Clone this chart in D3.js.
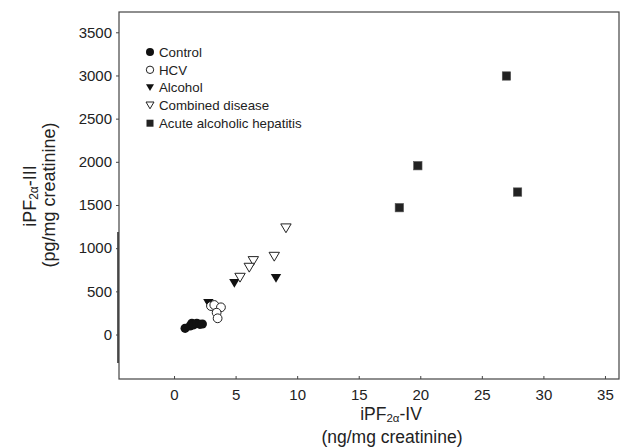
<!DOCTYPE html>
<html><head><meta charset="utf-8">
<script src="https://cdn.jsdelivr.net/npm/d3@7"></script>
<style>body{margin:0;background:#fff}svg{display:block}text{font-family:"Liberation Sans",Arial,sans-serif;fill:#222}</style>
</head><body><svg id="c" width="635" height="447"></svg>
<script>
const xTicks=[0,5,10,15,20,25,30,35];
const yTicks=[0,500,1000,1500,2000,2500,3000,3500];
const control=[[0.9,72],[1.3,100],[1.45,130],[1.6,112],[1.85,130],[2.1,118],[2.3,122]];
const hcv=[[3.0,330],[3.27,342],[3.81,315],[3.46,253],[3.54,188]];
const alcohol=[[2.79,361],[2.95,330],[4.9,593],[8.28,651]];
const combined=[[9.09,1230],[8.14,901],[6.44,851],[6.11,774],[5.36,658]];
const aah=[[18.3,1469],[19.8,1955],[27.0,2994],[27.9,1650]];
const legendLabels=["Control","HCV","Alcohol","Combined disease","Acute alcoholic hepatitis"];

const svg=d3.select("#c");
const L=119,R=619,T=12,B=379;
const x=d3.scaleLinear().domain([-4.47,36.14]).range([L,R]);
const y=d3.scaleLinear().domain([-515,3735]).range([B,T]);
const ink="#222";

// frame
svg.append("rect").attr("x",L).attr("y",T).attr("width",R-L).attr("height",B-T)
  .attr("fill","none").attr("stroke","#444").attr("stroke-width",1.2);
svg.append("line").attr("x1",L-1).attr("x2",L-1).attr("y1",232).attr("y2",363)
  .attr("stroke","#333").attr("stroke-width",1.6);

// y axis
const ya=svg.append("g").attr("transform",`translate(${L},0)`)
  .call(d3.axisLeft(y).tickValues(yTicks).tickFormat(d3.format("d")).tickSize(3).tickPadding(4));
ya.select(".domain").remove();
ya.selectAll("line").attr("stroke","#444");
ya.selectAll("text").style("font-size","15px").attr("fill",ink);

// x axis (inward ticks)
const xa=svg.append("g").attr("transform",`translate(0,${B})`)
  .call(d3.axisBottom(x).tickValues(xTicks).tickFormat(d3.format("d")).tickSize(-3).tickPadding(10));
xa.select(".domain").remove();
xa.selectAll("line").attr("stroke","#444");
xa.selectAll("text").style("font-size","15px").attr("fill",ink);

// axis titles
const xt=svg.append("text").attr("x",391).attr("y",420).attr("text-anchor","middle").style("font-size","17.5px");
xt.append("tspan").text("iPF");
xt.append("tspan").text("2α").style("font-size","11.5px").attr("dy",2);
xt.append("tspan").text("-IV").attr("dy",-2);
svg.append("text").attr("x",392).attr("y",443).attr("text-anchor","middle").style("font-size","17.5px").text("(ng/mg creatinine)");

const yt=svg.append("text").attr("transform","translate(36,196) rotate(-90)").attr("text-anchor","middle").style("font-size","18px");
yt.append("tspan").text("iPF");
yt.append("tspan").text("2α").style("font-size","12px").attr("dy",2);
yt.append("tspan").text("-III").attr("dy",-2);
svg.append("text").attr("transform","translate(55,195) rotate(-90)").attr("text-anchor","middle").style("font-size","18px").text("(pg/mg creatinine)");

// markers
const tri=(s)=>`M${-s},${-s*0.85}L${s},${-s*0.85}L0,${s*0.85}Z`;
const g=svg.append("g");
g.selectAll(".ctl").data(control).join("circle").attr("cx",d=>x(d[0])).attr("cy",d=>y(d[1])).attr("r",4.6).attr("fill","#111");
g.selectAll(".alc").data(alcohol).join("path").attr("transform",d=>`translate(${x(d[0])},${y(d[1])})`).attr("d",tri(5.2)).attr("fill","#111");
g.selectAll(".hcv").data(hcv).join("circle").attr("cx",d=>x(d[0])).attr("cy",d=>y(d[1])).attr("r",4.4).attr("fill","#fff").attr("stroke","#222").attr("stroke-width",1);
g.selectAll(".cmb").data(combined).join("path").attr("transform",d=>`translate(${x(d[0])},${y(d[1])})`).attr("d",tri(5.2)).attr("fill","#fff").attr("stroke","#222").attr("stroke-width",1);
g.selectAll(".aah").data(aah).join("rect").attr("x",d=>x(d[0])-4.2).attr("y",d=>y(d[1])-4.2).attr("width",8.4).attr("height",8.4).attr("fill","#222").attr("stroke","#555").attr("stroke-width",0.6);

// legend
const lg=svg.append("g");
const ly=i=>52+i*17.8, lx=150;
lg.append("circle").attr("cx",lx).attr("cy",ly(0)).attr("r",4).attr("fill","#111");
lg.append("circle").attr("cx",lx).attr("cy",ly(1)).attr("r",3.7).attr("fill","#fff").attr("stroke","#222");
lg.append("path").attr("transform",`translate(${lx},${ly(2)})`).attr("d",tri(4)).attr("fill","#111");
lg.append("path").attr("transform",`translate(${lx},${ly(3)})`).attr("d",tri(4)).attr("fill","#fff").attr("stroke","#222");
lg.append("rect").attr("x",lx-3.5).attr("y",ly(4)-3.5).attr("width",7).attr("height",7).attr("fill","#222");
lg.selectAll("text").data(legendLabels).join("text").attr("x",159).attr("y",(d,i)=>ly(i)+4.7).style("font-size","13.3px").text(d=>d);
</script></body></html>
